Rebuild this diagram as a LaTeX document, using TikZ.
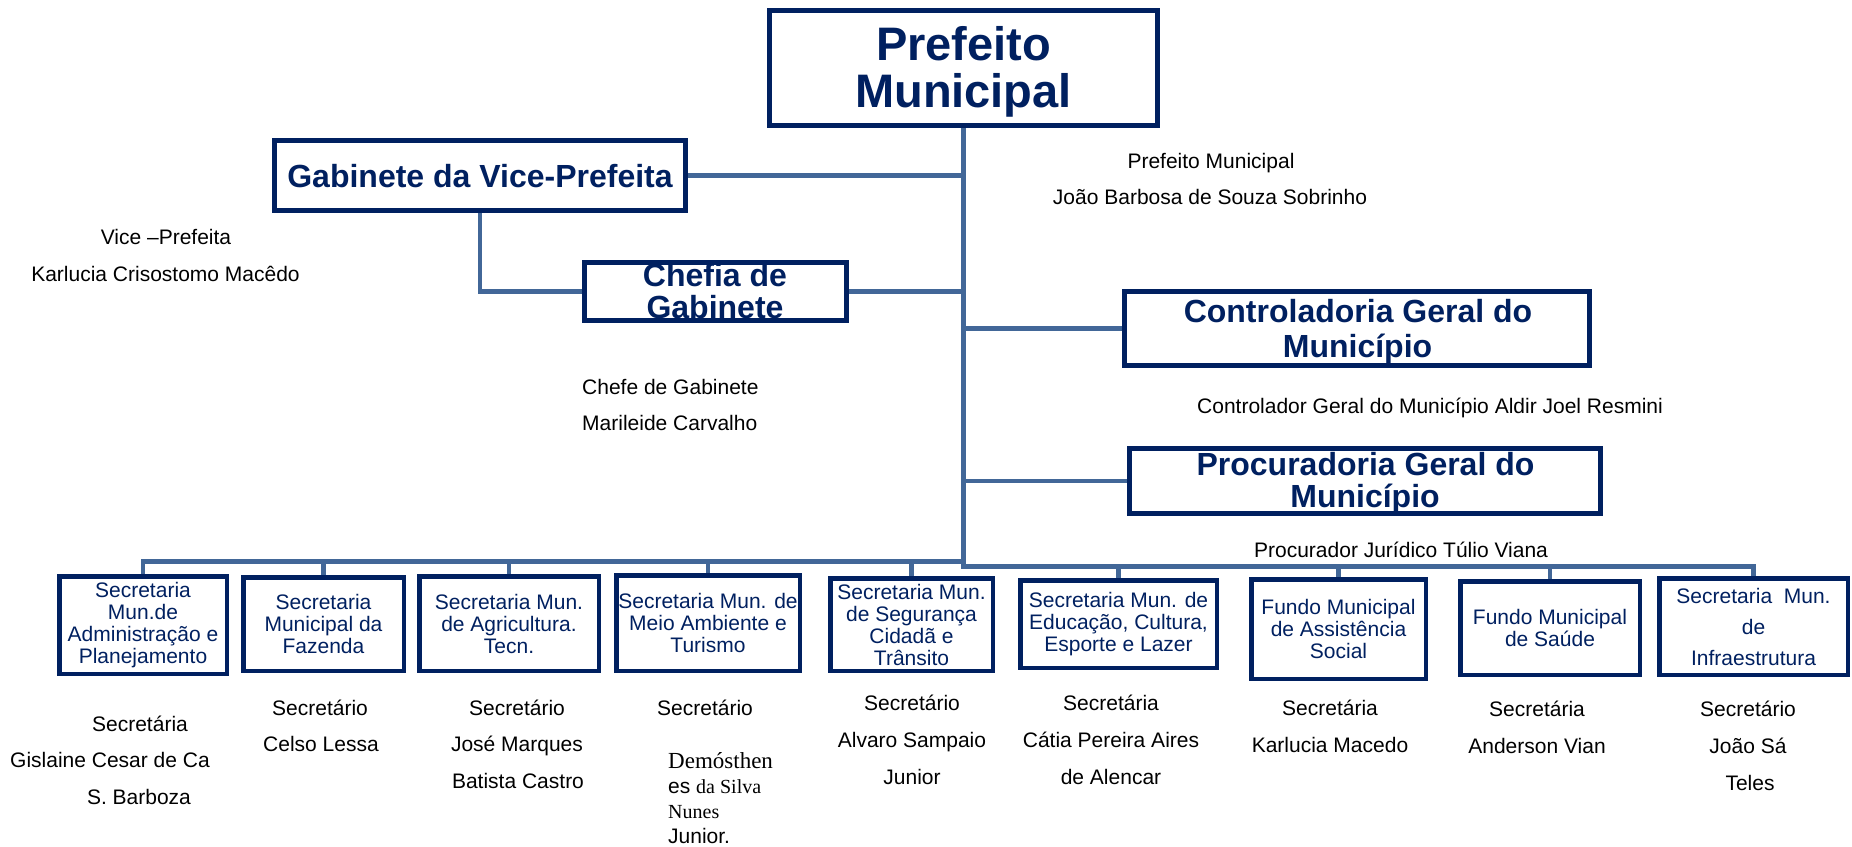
\documentclass[tikz,border=0pt]{standalone}
\usepackage{fontspec}
\setmainfont{Liberation Sans}
\newfontfamily\serifnm{Liberation Serif}
\definecolor{navy}{RGB}{0,32,96}
\definecolor{linkblue}{RGB}{66,103,152}
\tikzset{
  topbox/.style={draw=navy, line width=5pt, fill=white, inner sep=0pt},
  botbox/.style={draw=navy, line width=4.5pt, fill=white, inner sep=1pt, align=center, text=navy, font=\fontsize{21}{22}\selectfont},
  ttl/.style={text=navy, font=\bfseries\fontsize{32}{33}\selectfont, anchor=base, inner sep=0pt},
  bigttl/.style={text=navy, font=\bfseries\fontsize{47}{48}\selectfont, anchor=base, inner sep=0pt},
  nm/.style={text=black, font=\fontsize{21}{22}\selectfont, anchor=base, inner sep=0pt},
  link/.style={draw=linkblue, line width=4.5pt},
}
\begin{document}
\begin{tikzpicture}[x=1pt,y=-1pt]
\useasboundingbox (0,0) rectangle (1852,846);
% top boxes
\node[topbox, minimum width=388pt, minimum height=115pt] (pref) at (963.5,68) {};
\node[topbox, minimum width=411pt, minimum height=70pt] (gab) at (480,175.5) {};
\node[topbox, minimum width=262pt, minimum height=58pt] (chef) at (715.5,291.5) {};
\node[topbox, minimum width=465pt, minimum height=74pt] (ctrl) at (1357,328.5) {};
\node[topbox, minimum width=471pt, minimum height=65pt] (proc) at (1365,481) {};
% bottom boxes
\node[botbox, minimum width=167.5pt, minimum height=97.5pt] (b1) at (143,625) {Secretaria\\Mun.de\\Administração e\\Planejamento};
\node[botbox, minimum width=160.5pt, minimum height=93.5pt] (b2) at (323.5,624) {Secretaria\\Municipal da\\Fazenda};
\node[botbox, minimum width=179.5pt, minimum height=94.5pt] (b3) at (509,623.5) {Secretaria Mun.\\de Agricultura.\\Tecn.};
\node[botbox, minimum width=183.5pt, minimum height=95.5pt] (b4) at (708,623) {Secretaria Mun. de\\Meio Ambiente e\\Turismo};
\node[botbox, minimum width=162.5pt, minimum height=92.5pt] (b5) at (911.5,624.5) {Secretaria Mun.\\de Segurança\\Cidadã e\\Trânsito};
\node[botbox, minimum width=196.5pt, minimum height=87.5pt] (b6) at (1118.5,624) {Secretaria Mun. de\\Educação, Cultura,\\Esporte e Lazer};
\node[botbox, minimum width=174.5pt, minimum height=99.5pt] (b7) at (1338.5,629) {Fundo Municipal\\de Assistência\\Social};
\node[botbox, minimum width=179.5pt, minimum height=93.5pt] (b8) at (1550,628) {Fundo Municipal\\de Saúde};
\node[botbox, minimum width=188.5pt, minimum height=96.5pt, font=\fontsize{21}{31}\selectfont] (b9) at (1753.5,626.5) {Secretaria\ \ Mun.\\de\\Infraestrutura};
% junctions
\coordinate (jL) at (963.5,561.5);
\coordinate (jR) at (963.5,566.5);
% connectors
\draw[link] (pref.south) -- (jR) -- (b9.north |- jR) -- (b9.north);
\draw[link] (b1.north) -- (b1.north |- jL) -- (jL);
\foreach \b in {b2,b3,b4,b5} { \draw[link] (\b.north) -- (\b.north |- jL); }
\foreach \b in {b6,b7,b8} { \draw[link] (\b.north) -- (\b.north |- jR); }
\draw[link] (gab.east) -- (gab.east -| pref.south);
\draw[link] (gab.south) |- (chef.west);
\draw[link] (chef.east) -- (chef.east -| pref.south);
\draw[link] (ctrl.west) -- (ctrl.west -| pref.south);
\draw[link] (proc.west) -- (proc.west -| pref.south);
% titles
\node[bigttl] (prefT1) at (963.5,60.5) {Prefeito};
\node[bigttl] (prefT2) at (963.5,107) {Municipal};
\node[ttl] (gabT) at (480,187.5) {Gabinete da Vice-Prefeita};
\node[ttl] (chefT1) at (715,286) {Chefia de};
\node[ttl] (chefT2) at (715,318) {Gabinete};
\node[ttl] (ctrlT1) at (1358,322.5) {Controladoria Geral do};
\node[ttl] (ctrlT2) at (1357.5,357.5) {Município};
\node[ttl] (procT1) at (1365.5,475.5) {Procuradoria Geral do};
\node[ttl] (procT2) at (1365,507.5) {Município};
% names
\node[nm] (pm1) at (1211,168.5) {Prefeito Municipal};
\node[nm] (pm2) at (1210,204.5) {João Barbosa de Souza Sobrinho};
\node[nm] (vp1) at (166,244.5) {Vice –Prefeita};
\node[nm] (vp2) at (165.5,281.5) {Karlucia Crisostomo Macêdo};
\node[nm, anchor=base west] (cg1) at (582,394.5) {Chefe de Gabinete};
\node[nm, anchor=base west] (cg2) at (582,430.5) {Marileide Carvalho};
\node[nm] (ct) at (1430,413.5) {Controlador Geral do Município Aldir Joel Resmini};
\node[nm] (pj) at (1401,557.5) {Procurador Jurídico Túlio Viana};
% bottom names
\node[nm] (c1a) at (140,731.5) {Secretária};
\node[nm] (c1b) at (110,767.5) {Gislaine Cesar de Ca};
\node[nm] (c1c) at (139,804.5) {S. Barboza};
\node[nm] (c2a) at (320,715.5) {Secretário};
\node[nm] (c2b) at (321,751.5) {Celso Lessa};
\node[nm] (c3a) at (517,715.5) {Secretário};
\node[nm] (c3b) at (517,751.5) {José Marques};
\node[nm] (c3c) at (518,788.5) {Batista Castro};
\node[nm] (c4a) at (705,715.5) {Secretário};
\node[nm, anchor=base west, font=\serifnm\fontsize{23}{24}\selectfont] (c4b) at (668,768) {Demósthen};
\node[nm, anchor=base west] (c4c) at (668,793) {es {\serifnm\fontsize{20}{22}\selectfont da Silva}};
\node[nm, anchor=base west, font=\serifnm\fontsize{20}{22}\selectfont] (c4d) at (668,818) {Nunes};
\node[nm, anchor=base west] (c4e) at (668,843) {Junior.};
\node[nm] (c5a) at (912,710.5) {Secretário};
\node[nm] (c5b) at (912,747.5) {Alvaro Sampaio};
\node[nm] (c5c) at (912,784.5) {Junior};
\node[nm] (c6a) at (1111,710.5) {Secretária};
\node[nm] (c6b) at (1111,747.5) {Cátia Pereira Aires};
\node[nm] (c6c) at (1111,784.5) {de Alencar};
\node[nm] (c7a) at (1330,715.5) {Secretária};
\node[nm] (c7b) at (1330,752.5) {Karlucia Macedo};
\node[nm] (c8a) at (1537,716.5) {Secretária};
\node[nm] (c8b) at (1537,753.5) {Anderson Vian};
\node[nm] (c9a) at (1748,716.5) {Secretário};
\node[nm] (c9b) at (1748,753.5) {João Sá};
\node[nm] (c9c) at (1750,790.5) {Teles};
\end{tikzpicture}
\end{document}
